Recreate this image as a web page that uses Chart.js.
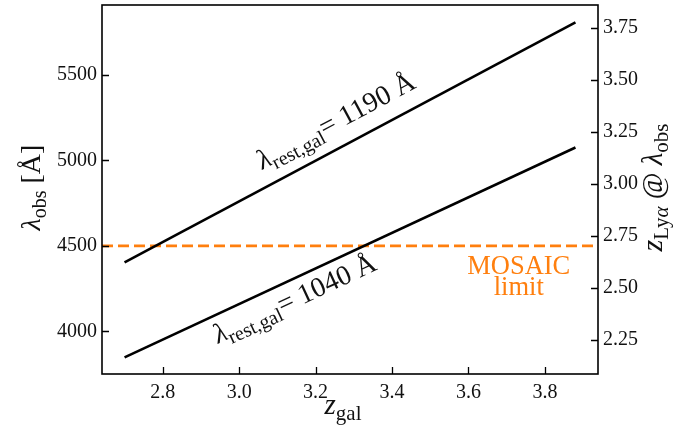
<!DOCTYPE html>
<html>
<head>
<meta charset="utf-8">
<script src="https://cdn.jsdelivr.net/npm/chart.js@4/dist/chart.umd.min.js"></script>
<style>
  html, body { margin: 0; padding: 0; background: #ffffff; }
  #wrap { width: 688px; height: 430px; }
</style>
</head>
<body>
<div id="wrap"><canvas id="c" width="688" height="430"></canvas></div>
<script>
// ---- data ----
const zGal = [2.70, 3.88];
const lambda1190 = [4403, 5807];
const lambda1040 = [3848, 5075];
const mosaicLimit = 4500;
const xTicks = [2.8, 3.0, 3.2, 3.4, 3.6, 3.8];
const yTicks = [4000, 4500, 5000, 5500];
const zLyaTicks = [2.25, 2.50, 2.75, 3.00, 3.25, 3.50, 3.75];
const lyaRest = 1215.67;
const xRange = [2.641, 3.939];
const yRange = [3751, 5908];

const SERIF = '"Liberation Serif", "DejaVu Serif", serif';
const TXT = '#111111';
const ORANGE = '#ff7f0e';

function pts(xs, ys) { return xs.map((x, i) => ({ x: x, y: ys[i] })); }

function drawRich(ctx, parts, x, y, angle, align) {
  ctx.save();
  ctx.translate(x, y);
  ctx.rotate(angle);
  ctx.textBaseline = 'alphabetic';
  ctx.textAlign = 'left';
  let total = 0;
  const widths = parts.map(p => { ctx.font = p.font; const w = ctx.measureText(p.text).width; total += w; return w; });
  let cx = align === 'center' ? -total / 2 : 0;
  parts.forEach((p, i) => {
    ctx.font = p.font;
    ctx.fillStyle = p.color || TXT;
    ctx.fillText(p.text, cx, p.dy || 0);
    cx += widths[i];
  });
  ctx.restore();
}

const decor = {
  id: 'decor',
  afterDraw(chart) {
    const ctx = chart.ctx;
    const a = chart.chartArea;
    const sx = chart.scales.x, sy = chart.scales.y, s2 = chart.scales.y2;
    ctx.save();
    // frame
    ctx.strokeStyle = '#000';
    ctx.lineWidth = 1.6;
    ctx.strokeRect(a.left, a.top, a.right - a.left, a.bottom - a.top);
    // inward ticks
    ctx.lineWidth = 1.3;
    ctx.beginPath();
    xTicks.forEach(v => { const px = Math.round(sx.getPixelForValue(v)) + 0.5; ctx.moveTo(px, a.bottom); ctx.lineTo(px, a.bottom - 7); });
    yTicks.forEach(v => { const py = Math.round(sy.getPixelForValue(v)) + 0.5; ctx.moveTo(a.left, py); ctx.lineTo(a.left + 7, py); });
    zLyaTicks.forEach(v => { const py = Math.round(s2.getPixelForValue(v)) + 0.5; ctx.moveTo(a.right, py); ctx.lineTo(a.right - 7, py); });
    ctx.stroke();
    ctx.restore();

    const big = 'italic 28px ' + SERIF;
    const reg = '28px ' + SERIF;
    const sub = '20px ' + SERIF;
    const subI = 'italic 20px ' + SERIF;
    const cy = (a.top + a.bottom) / 2;
    // left title
    drawRich(ctx, [
      { text: 'λ', font: big },
      { text: 'obs', font: sub, dy: 6 },
      { text: ' [Å]', font: reg }
    ], 40, cy - 2, -Math.PI / 2, 'center');
    // bottom title
    drawRich(ctx, [
      { text: 'z', font: 'italic 29px ' + SERIF },
      { text: 'gal', font: '21px ' + SERIF, dy: 6 }
    ], 343, 414, 0, 'center');
    // right title
    drawRich(ctx, [
      { text: 'z', font: 'italic 30px ' + SERIF },
      { text: 'Ly', font: '21px ' + SERIF, dy: 6 },
      { text: 'α', font: 'italic 21px ' + SERIF, dy: 6 },
      { text: ' @ ', font: '29px ' + SERIF },
      { text: 'λ', font: 'italic 29px ' + SERIF },
      { text: 'obs', font: '21px ' + SERIF, dy: 6 }
    ], 662, cy - 2, -Math.PI / 2, 'center');

    // line labels, rotated along the lines
    const labels = [
      { z: 3.2526, l: 5232, ys: lambda1190, text: '1190' },
      { z: 3.1447, l: 4193, ys: lambda1040, text: '1040' }
    ];
    labels.forEach(lb => {
      const x0 = sx.getPixelForValue(zGal[0]), x1 = sx.getPixelForValue(zGal[1]);
      const y0 = sy.getPixelForValue(lb.ys[0]), y1 = sy.getPixelForValue(lb.ys[1]);
      const ang = Math.atan2(y1 - y0, x1 - x0);
      const px = sx.getPixelForValue(lb.z), py = sy.getPixelForValue(lb.l);
      const bx = px + Math.sin(ang) * 9 * -1, by = py + Math.cos(ang) * 9;
      drawRich(ctx, [
        { text: 'λ', font: 'italic 28px ' + SERIF },
        { text: 'rest,gal', font: '20px ' + SERIF, dy: 6 },
        { text: '= ' + lb.text + ' Å', font: '28px ' + SERIF }
      ], bx, by, ang, 'center');
    });

    // MOSAIC limit text
    ctx.save();
    ctx.fillStyle = ORANGE;
    ctx.font = '26.5px ' + SERIF;
    ctx.textAlign = 'center';
    ctx.textBaseline = 'alphabetic';
    const mx = sx.getPixelForValue(3.7316);
    ctx.fillText('MOSAIC', mx, sy.getPixelForValue(4391) + 9);
    ctx.fillText('limit', mx, sy.getPixelForValue(4263) + 9);
    ctx.restore();
  }
};

const tickFont = { family: SERIF, size: 20 };

new Chart(document.getElementById('c'), {
  type: 'scatter',
  data: {
    datasets: [
      { data: pts(zGal, lambda1190), showLine: true, borderColor: '#000', borderWidth: 2.6, pointRadius: 0, yAxisID: 'y' },
      { data: pts(zGal, lambda1040), showLine: true, borderColor: '#000', borderWidth: 2.6, pointRadius: 0, yAxisID: 'y' },
      { data: pts(xRange, [mosaicLimit, mosaicLimit]), showLine: true, borderColor: ORANGE, borderWidth: 2.6, borderDash: [11, 5], pointRadius: 0, yAxisID: 'y' }
    ]
  },
  options: {
    responsive: false,
    animation: false,
    layout: { padding: { top: 5, left: 0, right: 0, bottom: 0 } },
    plugins: { legend: { display: false }, tooltip: { enabled: false } },
    scales: {
      x: {
        type: 'linear', position: 'bottom', min: xRange[0], max: xRange[1],
        grid: { display: false, drawTicks: false }, border: { display: false },
        ticks: { font: tickFont, color: TXT, padding: 7, autoSkip: false, maxRotation: 0, callback: v => v.toFixed(1) },
        afterBuildTicks: s => { s.ticks = xTicks.map(v => ({ value: v })); },
        afterFit: s => { s.height = 56; s.paddingLeft = 0; s.paddingRight = 0; }
      },
      y: {
        type: 'linear', position: 'left', min: yRange[0], max: yRange[1],
        grid: { display: false, drawTicks: false }, border: { display: false },
        ticks: { font: tickFont, color: TXT, padding: 5, autoSkip: false, callback: v => String(v) },
        afterBuildTicks: s => { s.ticks = yTicks.map(v => ({ value: v })); },
        afterFit: s => { s.width = 102; s.paddingTop = 0; s.paddingBottom = 0; }
      },
      y2: {
        type: 'linear', position: 'right', min: yRange[0] / lyaRest - 1, max: yRange[1] / lyaRest - 1,
        grid: { display: false, drawTicks: false }, border: { display: false },
        ticks: { font: tickFont, color: TXT, padding: 5, autoSkip: false, callback: v => v.toFixed(2) },
        afterBuildTicks: s => { s.ticks = zLyaTicks.map(v => ({ value: v })); },
        afterFit: s => { s.width = 90; s.paddingTop = 0; s.paddingBottom = 0; }
      }
    }
  },
  plugins: [decor]
});
</script>
</body>
</html>
